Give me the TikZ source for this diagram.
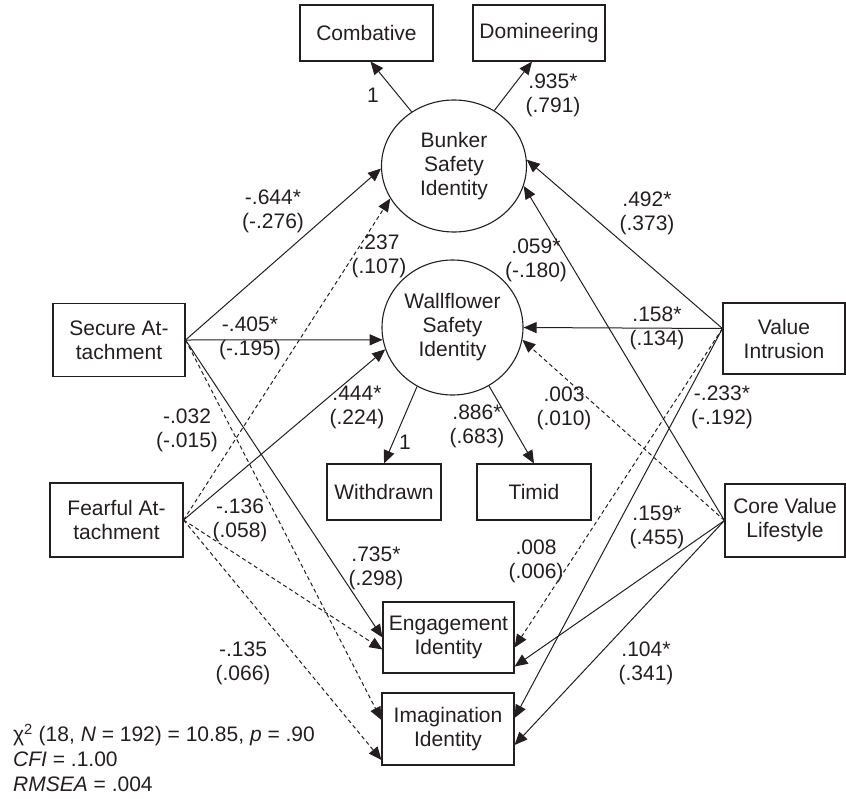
\documentclass[tikz,border=0pt]{standalone}
\usepackage{fontspec}
\setmainfont{Liberation Sans}
\usetikzlibrary{shapes.geometric,arrows.meta}
\newcommand{\semfont}{\fontsize{21}{24}\selectfont}
\definecolor{ink}{HTML}{231F20}

\begin{document}
\begin{tikzpicture}[x=1pt,y=-1pt, color=ink,
  obs/.style n args={2}{draw, line width=1.1pt, minimum width=#1pt, minimum height=#2pt,
    inner sep=0pt, align=center, font=\semfont},
  lat/.style n args={2}{ellipse, draw, line width=1.1pt, minimum width=#1pt, minimum height=#2pt,
    inner sep=0pt, align=center, font=\semfont},
  sig/.style={-{Triangle[length=13pt,width=11pt]}, line width=1pt},
  nonsig/.style={sig, dash pattern=on 4pt off 3pt},
  coef/.style={align=center, inner sep=0pt, font=\semfont}]

\useasboundingbox (0,0) rectangle (846,798);

% indicators of the two latent safety identities
\node[obs={133}{56}] (comb) at (366.5,33) {Combative};
\node[obs={132}{56}] (dom) at (539,33) {Domineering};
\node[obs={114}{56}] (withd) at (384,492) {Withdrawn};
\node[obs={114}{56}] (timid) at (534,492) {Timid};

% latent variables
\node[lat={145}{132}] (bunker) at (454,166) {Bunker\\Safety\\Identity};
\node[lat={141}{135}] (wall) at (452.5,327.5) {Wallflower\\Safety\\Identity};

% predictors
\node[obs={132}{73}] (secure) at (119,340) {Secure At-\\tachment};
\node[obs={133}{74}] (fear) at (116.5,520) {Fearful At-\\tachment};
\node[obs={122}{71}] (vi) at (784,338.5) {Value\\Intrusion};
\node[obs={120}{73}] (cvl) at (785,520.5) {Core Value\\Lifestyle};

% outcomes
\node[obs={131}{71}] (engage) at (448.5,637.5) {Engagement\\Identity};
\node[obs={132}{72}] (imag) at (448,729) {Imagination\\Identity};

\coordinate (via) at ([yshift=10pt]vi.west);

% measurement paths
\draw[sig] (bunker.128) -- ([xshift=4pt]comb.south);
\draw[sig] (bunker.54) -- ([xshift=-7pt]dom.south);
\draw[sig] (wall.239) -- (withd.north);
\draw[sig] (wall.-58) -- (timid.north);

% secure attachment
\draw[sig] (secure.east) -- (bunker.182);
\draw[sig] (secure.east) -- (wall.190);
\draw[sig] (secure.east) -- (engage.west);
\draw[nonsig] (secure.east) -- ([yshift=9pt]imag.west);

% fearful attachment
\draw[nonsig] (fear.east) -- (bunker.207);
\draw[sig] (fear.east) -- (wall.198);
\draw[nonsig] (fear.east) -- ([yshift=-12pt]engage.west);
\draw[nonsig] (fear.east) -- ([yshift=-31pt]imag.west);

% value intrusion
\draw[sig] (via) -- (bunker.5);
\draw[sig] (via) -- (wall.0);
\draw[nonsig] (via) -- ([yshift=-10pt]engage.east);
\draw[sig] (via) -- ([yshift=11pt]imag.east);

% core value lifestyle
\draw[sig] (cvl.west) -- (bunker.-16);
\draw[nonsig] (cvl.west) -- (wall.-10);
\draw[sig] (cvl.west) -- ([yshift=-29pt]engage.east);
\draw[sig] (cvl.west) -- ([yshift=-16pt]imag.east);

% path coefficients
\node[coef] (c1) at (373,95) {1};
\node[coef] (c2) at (553,95) {.935*\\(.791)};
\node[coef] (c3) at (405,442) {1};
\node[coef] (c4) at (477,426.5) {.886*\\(.683)};
\node[coef] (c5) at (273,211.5) {-.644*\\(-.276)};
\node[coef] (c6) at (250,338) {-.405*\\(-.195)};
\node[coef] (c7) at (376,568.5) {.735*\\(.298)};
\node[coef] (c8) at (187,430) {-.032\\(-.015)};
\node[coef] (c9) at (379,256.5) {.237\\(.107)};
\node[coef] (c10) at (357,407.5) {.444*\\(.224)};
\node[coef] (c11) at (240,520) {-.136\\(.058)};
\node[coef] (c12) at (243,663) {-.135\\(.066)};
\node[coef] (c13) at (647,213.5) {.492*\\(.373)};
\node[coef] (c14) at (657,328.5) {.158*\\(.134)};
\node[coef] (c15) at (536,561.5) {.008\\(.006)};
\node[coef] (c16) at (722,407.5) {-.233*\\(-.192)};
\node[coef] (c17) at (536,260) {.059*\\(-.180)};
\node[coef] (c18) at (564,408.5) {.003\\(.010)};
\node[coef] (c19) at (657,527.5) {.159*\\(.455)};
\node[coef] (c20) at (646,663) {.104*\\(.341)};

% fit statistics
\node[anchor=west, align=left, inner sep=0pt, font=\fontsize{21}{25}\selectfont] (fit) at (13,758)
  {χ\textsuperscript{2} (18, \textit{N} = 192) = 10.85, \textit{p} = .90\\
   \textit{CFI} = .1.00\\
   \textit{RMSEA} = .004};

\end{tikzpicture}
\end{document}
